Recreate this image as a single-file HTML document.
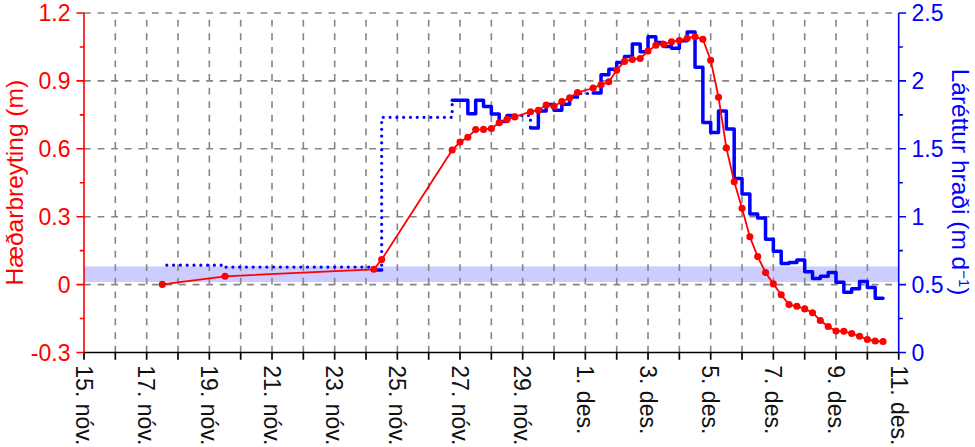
<!DOCTYPE html>
<html><head><meta charset="utf-8"><style>
html,body{margin:0;padding:0;background:#fff;width:975px;height:447px;overflow:hidden;}
svg{display:block;}
</style></head><body>
<svg width="975" height="447" viewBox="0 0 975 447">
<rect x="84" y="266.4" width="814.7" height="15.7" fill="#CCCCFF"/>
<path d="M84 13H898.7M84 80.9H898.7M84 148.8H898.7M84 216.7H898.7M84 284.6H898.7" stroke="#858585" stroke-width="1.6" stroke-dasharray="6.79 6.79" fill="none"/>
<path d="M115.33 352.5V13M146.67 352.5V13M178 352.5V13M209.34 352.5V13M240.67 352.5V13M272.01 352.5V13M303.34 352.5V13M334.68 352.5V13M366.01 352.5V13M397.35 352.5V13M428.68 352.5V13M460.02 352.5V13M491.35 352.5V13M522.68 352.5V13M554.02 352.5V13M585.35 352.5V13M616.69 352.5V13M648.02 352.5V13M679.36 352.5V13M710.69 352.5V13M742.03 352.5V13M773.36 352.5V13M804.7 352.5V13M836.03 352.5V13M867.37 352.5V13" stroke="#858585" stroke-width="1.6" stroke-dasharray="6.79 6.79" fill="none"/>
<path d="M84 352.5H898.7M84 352.5V359.8M115.33 352.5V359.8M146.67 352.5V359.8M178 352.5V359.8M209.34 352.5V359.8M240.67 352.5V359.8M272.01 352.5V359.8M303.34 352.5V359.8M334.68 352.5V359.8M366.01 352.5V359.8M397.35 352.5V359.8M428.68 352.5V359.8M460.02 352.5V359.8M491.35 352.5V359.8M522.68 352.5V359.8M554.02 352.5V359.8M585.35 352.5V359.8M616.69 352.5V359.8M648.02 352.5V359.8M679.36 352.5V359.8M710.69 352.5V359.8M742.03 352.5V359.8M773.36 352.5V359.8M804.7 352.5V359.8M836.03 352.5V359.8M867.37 352.5V359.8M898.7 352.5V359.8" stroke="#000" stroke-width="1.7" fill="none"/>
<path d="M84 352.5V13M84 13H76.4M84 46.95H79.8M84 80.9H76.4M84 114.85H79.8M84 148.8H76.4M84 182.75H79.8M84 216.7H76.4M84 250.65H79.8M84 284.6H76.4M84 318.55H79.8M84 352.5H76.4" stroke="#FF0000" stroke-width="1.6" fill="none"/>
<path d="M898.7 352.5V13M898.7 13H906M898.7 46.95H902.9M898.7 80.9H906M898.7 114.85H902.9M898.7 148.8H906M898.7 182.75H902.9M898.7 216.7H906M898.7 250.65H902.9M898.7 284.6H906M898.7 318.55H902.9M898.7 352.5H906" stroke="#0000FF" stroke-width="1.6" fill="none"/>
<path d="M162.34 265.2 L225.01 265.2 L225.01 267.1 L373.85 267.1 L373.85 270" stroke="#0000FF" stroke-width="3.2" stroke-linecap="round" stroke-dasharray="0 6.79" stroke-dashoffset="2.29" fill="none"/>
<path d="M381.68 270 L381.68 117.3 L452.18 117.3 L452.18 100.3" stroke="#0000FF" stroke-width="3.2" stroke-linecap="round" stroke-dasharray="0 6.79" stroke-dashoffset="1.87" fill="none"/>
<path d="M514.85 115.5 L530.52 115.5 L530.52 128.1" stroke="#0000FF" stroke-width="3.2" stroke-linecap="round" stroke-dasharray="0 6.79" stroke-dashoffset="0" fill="none"/>
<path d="M577.52 97.1 L577.52 93.5 L593.19 93.5 L593.19 93" stroke="#0000FF" stroke-width="3.2" stroke-linecap="round" stroke-dasharray="0 6.79" stroke-dashoffset="0" fill="none"/>
<path d="M373.85 270 L381.68 270" stroke="#0000FF" stroke-width="3.5" stroke-linecap="round" stroke-linejoin="round" fill="none"/>
<path d="M452.18 100.3 L460.02 100.3 L460.02 100.3 L467.85 100.3 L467.85 113.7 L475.68 113.7 L475.68 100.3 L483.52 100.3 L483.52 106.5 L491.35 106.5 L491.35 113.9 L499.18 113.9 L499.18 121.6 L507.02 121.6 L507.02 115.5 L514.85 115.5" stroke="#0000FF" stroke-width="3.5" stroke-linecap="round" stroke-linejoin="round" fill="none"/>
<path d="M530.52 128.1 L538.35 128.1 L538.35 111 L546.19 111 L546.19 104.5 L554.02 104.5 L554.02 110.2 L561.85 110.2 L561.85 104.3 L569.69 104.3 L569.69 97.1 L577.52 97.1" stroke="#0000FF" stroke-width="3.5" stroke-linecap="round" stroke-linejoin="round" fill="none"/>
<path d="M593.19 93 L601.02 93 L601.02 74.8 L608.85 74.8 L608.85 69.3 L616.69 69.3 L616.69 62.6 L624.52 62.6 L624.52 56.6 L632.36 56.6 L632.36 44 L640.19 44 L640.19 51.7 L648.02 51.7 L648.02 36.7 L655.86 36.7 L655.86 42.5 L663.69 42.5 L663.69 46.5 L671.52 46.5 L671.52 48.3 L679.36 48.3 L679.36 40.7 L687.19 40.7 L687.19 32.1 L695.02 32.1 L695.02 67.3 L702.86 67.3 L702.86 122.4 L710.69 122.4 L710.69 132.4 L718.53 132.4 L718.53 111 L726.36 111 L726.36 129.1 L734.19 129.1 L734.19 178.4 L742.03 178.4 L742.03 193.9 L749.86 193.9 L749.86 213.9 L757.69 213.9 L757.69 218 L765.53 218 L765.53 239.2 L773.36 239.2 L773.36 251.2 L781.2 251.2 L781.2 263.4 L789.03 263.4 L789.03 262.5 L796.86 262.5 L796.86 260 L804.7 260 L804.7 271.8 L812.53 271.8 L812.53 278.6 L820.36 278.6 L820.36 276.2 L828.2 276.2 L828.2 272.4 L836.03 272.4 L836.03 282.3 L843.86 282.3 L843.86 292.3 L851.7 292.3 L851.7 288.8 L859.53 288.8 L859.53 281.4 L867.37 281.4 L867.37 287.4 L875.2 287.4 L875.2 298.2 L883.03 298.2" stroke="#0000FF" stroke-width="3.5" stroke-linecap="round" stroke-linejoin="round" fill="none"/>
<path d="M162.34 284.4 L225.01 276.3 L373.85 269.3 L381.68 259.6 L452.18 150 L460.02 142.1 L467.85 137.2 L475.68 129.6 L483.52 129.4 L491.35 128.5 L499.18 122.8 L507.02 119.4 L514.85 116.9 L530.52 111.7 L538.35 110.2 L546.19 105.1 L554.02 106.3 L561.85 101.5 L569.69 97.8 L577.52 92.6 L593.19 88 L601.02 84.8 L608.85 81.8 L616.69 70.2 L624.52 61.4 L632.36 59.5 L640.19 58.5 L648.02 51.1 L655.86 45.2 L663.69 44.2 L671.52 41.8 L679.36 40.5 L687.19 38.2 L695.02 36.8 L702.86 39.3 L710.69 60.3 L718.53 97.3 L726.36 147.9 L734.19 181.8 L742.03 208.2 L749.86 236.8 L757.69 256.6 L765.53 272.5 L773.36 283.9 L781.2 294.7 L789.03 304.6 L796.86 306.3 L804.7 308.9 L812.53 312.7 L820.36 320.5 L828.2 326.5 L836.03 331 L843.86 331.3 L851.7 333.5 L859.53 336.2 L867.37 339.5 L875.2 341 L883.03 341.5" stroke="#FF0000" stroke-width="1.8" stroke-linejoin="round" fill="none"/>
<g fill="#FF0000"><circle cx="162.34" cy="284.4" r="3.55"/><circle cx="225.01" cy="276.3" r="3.55"/><circle cx="373.85" cy="269.3" r="3.55"/><circle cx="381.68" cy="259.6" r="3.55"/><circle cx="452.18" cy="150" r="3.55"/><circle cx="460.02" cy="142.1" r="3.55"/><circle cx="467.85" cy="137.2" r="3.55"/><circle cx="475.68" cy="129.6" r="3.55"/><circle cx="483.52" cy="129.4" r="3.55"/><circle cx="491.35" cy="128.5" r="3.55"/><circle cx="499.18" cy="122.8" r="3.55"/><circle cx="507.02" cy="119.4" r="3.55"/><circle cx="514.85" cy="116.9" r="3.55"/><circle cx="530.52" cy="111.7" r="3.55"/><circle cx="538.35" cy="110.2" r="3.55"/><circle cx="546.19" cy="105.1" r="3.55"/><circle cx="554.02" cy="106.3" r="3.55"/><circle cx="561.85" cy="101.5" r="3.55"/><circle cx="569.69" cy="97.8" r="3.55"/><circle cx="577.52" cy="92.6" r="3.55"/><circle cx="593.19" cy="88" r="3.55"/><circle cx="601.02" cy="84.8" r="3.55"/><circle cx="608.85" cy="81.8" r="3.55"/><circle cx="616.69" cy="70.2" r="3.55"/><circle cx="624.52" cy="61.4" r="3.55"/><circle cx="632.36" cy="59.5" r="3.55"/><circle cx="640.19" cy="58.5" r="3.55"/><circle cx="648.02" cy="51.1" r="3.55"/><circle cx="655.86" cy="45.2" r="3.55"/><circle cx="663.69" cy="44.2" r="3.55"/><circle cx="671.52" cy="41.8" r="3.55"/><circle cx="679.36" cy="40.5" r="3.55"/><circle cx="687.19" cy="38.2" r="3.55"/><circle cx="695.02" cy="36.8" r="3.55"/><circle cx="702.86" cy="39.3" r="3.55"/><circle cx="710.69" cy="60.3" r="3.55"/><circle cx="718.53" cy="97.3" r="3.55"/><circle cx="726.36" cy="147.9" r="3.55"/><circle cx="734.19" cy="181.8" r="3.55"/><circle cx="742.03" cy="208.2" r="3.55"/><circle cx="749.86" cy="236.8" r="3.55"/><circle cx="757.69" cy="256.6" r="3.55"/><circle cx="765.53" cy="272.5" r="3.55"/><circle cx="773.36" cy="283.9" r="3.55"/><circle cx="781.2" cy="294.7" r="3.55"/><circle cx="789.03" cy="304.6" r="3.55"/><circle cx="796.86" cy="306.3" r="3.55"/><circle cx="804.7" cy="308.9" r="3.55"/><circle cx="812.53" cy="312.7" r="3.55"/><circle cx="820.36" cy="320.5" r="3.55"/><circle cx="828.2" cy="326.5" r="3.55"/><circle cx="836.03" cy="331" r="3.55"/><circle cx="843.86" cy="331.3" r="3.55"/><circle cx="851.7" cy="333.5" r="3.55"/><circle cx="859.53" cy="336.2" r="3.55"/><circle cx="867.37" cy="339.5" r="3.55"/><circle cx="875.2" cy="341" r="3.55"/><circle cx="883.03" cy="341.5" r="3.55"/></g>
<text x="70.5" y="21.2" text-anchor="end" fill="#FF0000" font-family="Liberation Sans, sans-serif" font-size="23">1.2</text>
<text x="70.5" y="89.1" text-anchor="end" fill="#FF0000" font-family="Liberation Sans, sans-serif" font-size="23">0.9</text>
<text x="70.5" y="157" text-anchor="end" fill="#FF0000" font-family="Liberation Sans, sans-serif" font-size="23">0.6</text>
<text x="70.5" y="224.9" text-anchor="end" fill="#FF0000" font-family="Liberation Sans, sans-serif" font-size="23">0.3</text>
<text x="70.5" y="292.8" text-anchor="end" fill="#FF0000" font-family="Liberation Sans, sans-serif" font-size="23">0</text>
<text x="70.5" y="360.7" text-anchor="end" fill="#FF0000" font-family="Liberation Sans, sans-serif" font-size="23">-0.3</text>
<text x="911.5" y="21.2" fill="#0000FF" font-family="Liberation Sans, sans-serif" font-size="23">2.5</text>
<text x="911.5" y="89.1" fill="#0000FF" font-family="Liberation Sans, sans-serif" font-size="23">2</text>
<text x="911.5" y="157" fill="#0000FF" font-family="Liberation Sans, sans-serif" font-size="23">1.5</text>
<text x="911.5" y="224.9" fill="#0000FF" font-family="Liberation Sans, sans-serif" font-size="23">1</text>
<text x="911.5" y="292.8" fill="#0000FF" font-family="Liberation Sans, sans-serif" font-size="23">0.5</text>
<text x="911.5" y="360.7" fill="#0000FF" font-family="Liberation Sans, sans-serif" font-size="23">0</text>
<text transform="translate(75.8 365.3) rotate(90)" fill="#111" font-family="Liberation Sans, sans-serif" font-size="23">15. nóv.</text>
<text transform="translate(138.47 365.3) rotate(90)" fill="#111" font-family="Liberation Sans, sans-serif" font-size="23">17. nóv.</text>
<text transform="translate(201.14 365.3) rotate(90)" fill="#111" font-family="Liberation Sans, sans-serif" font-size="23">19. nóv.</text>
<text transform="translate(263.81 365.3) rotate(90)" fill="#111" font-family="Liberation Sans, sans-serif" font-size="23">21. nóv.</text>
<text transform="translate(326.48 365.3) rotate(90)" fill="#111" font-family="Liberation Sans, sans-serif" font-size="23">23. nóv.</text>
<text transform="translate(389.15 365.3) rotate(90)" fill="#111" font-family="Liberation Sans, sans-serif" font-size="23">25. nóv.</text>
<text transform="translate(451.82 365.3) rotate(90)" fill="#111" font-family="Liberation Sans, sans-serif" font-size="23">27. nóv.</text>
<text transform="translate(514.48 365.3) rotate(90)" fill="#111" font-family="Liberation Sans, sans-serif" font-size="23">29. nóv.</text>
<text transform="translate(577.15 365.3) rotate(90)" fill="#111" font-family="Liberation Sans, sans-serif" font-size="23">1. des.</text>
<text transform="translate(639.82 365.3) rotate(90)" fill="#111" font-family="Liberation Sans, sans-serif" font-size="23">3. des.</text>
<text transform="translate(702.49 365.3) rotate(90)" fill="#111" font-family="Liberation Sans, sans-serif" font-size="23">5. des.</text>
<text transform="translate(765.16 365.3) rotate(90)" fill="#111" font-family="Liberation Sans, sans-serif" font-size="23">7. des.</text>
<text transform="translate(827.83 365.3) rotate(90)" fill="#111" font-family="Liberation Sans, sans-serif" font-size="23">9. des.</text>
<text transform="translate(890.5 365.3) rotate(90)" fill="#111" font-family="Liberation Sans, sans-serif" font-size="23">11. des.</text>
<text transform="translate(22.5 182.7) rotate(-90)" text-anchor="middle" fill="#FF0000" font-family="Liberation Sans, sans-serif" font-size="24.5">Hæðarbreyting (m)</text>
<text transform="translate(951.7 68.7) rotate(90)" fill="#0000FF" font-family="Liberation Sans, sans-serif" font-size="24.5">Láréttur hraði (m d<tspan font-size="15" dy="-7.3">−1</tspan><tspan dy="7.3">)</tspan></text>
</svg>
</body></html>
